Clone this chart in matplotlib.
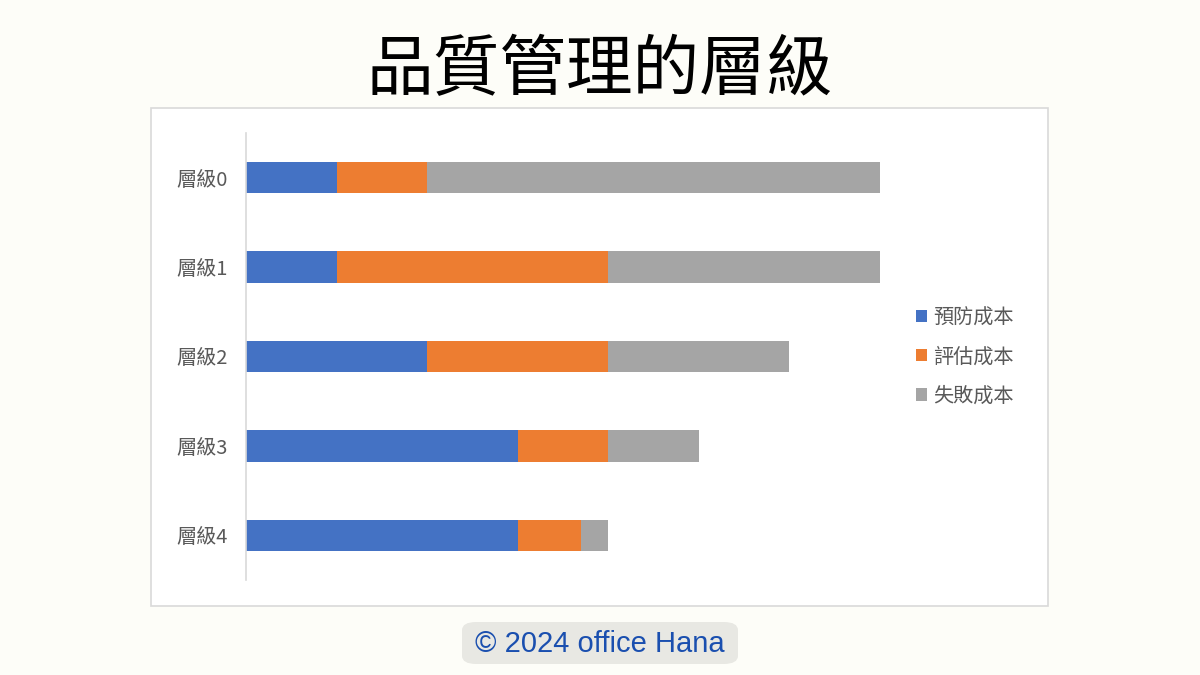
import matplotlib
matplotlib.use("Agg")
import matplotlib.pyplot as plt
from matplotlib.patches import Rectangle, FancyBboxPatch

plt.rcParams['font.family'] = ['Noto Sans CJK TC', 'DejaVu Sans']

categories = ["層級0", "層級1", "層級2", "層級3", "層級4"]
series_names = ["預防成本", "評估成本", "失敗成本"]
prevention = [1, 1, 2, 3, 3]
appraisal = [1, 3, 2, 1, 0.7]
failure = [5, 3, 2, 1, 0.3]
colors = ["#4472C4", "#ED7D31", "#A5A5A5"]

W, H = 1200, 675
fig = plt.figure(figsize=(12, 6.75), dpi=100)
fig.patch.set_facecolor("#FDFDF8")

# chart frame
fig.patches.append(Rectangle((151 / W, 1 - 606 / H), (1048 - 151) / W, (606 - 108) / H,
                             transform=fig.transFigure, facecolor="white",
                             edgecolor="#D9D9D9", linewidth=1.2, zorder=-5))

ax = fig.add_axes([246 / W, 1 - 580 / H, (880 - 246) / W, 447 / H])
ax.set_zorder(3)
ax.set_facecolor("none")

y = list(range(len(categories)))
left = [0] * len(categories)
for vals, name, c in zip([prevention, appraisal, failure], series_names, colors):
    ax.barh(y, vals, left=left, height=0.35, color=c, label=name)
    left = [l + v for l, v in zip(left, vals)]

ax.set_xlim(0, 7)
ax.set_ylim(4.5, -0.5)
ax.set_yticks(y)
ax.set_yticklabels(categories, fontsize=14.5, color="#595959")
ax.tick_params(axis='y', length=0, pad=13)
ax.set_xticks([])
for s in ["top", "right", "bottom"]:
    ax.spines[s].set_visible(False)
ax.spines["left"].set_color("#D9D9D9")
ax.spines["left"].set_linewidth(1.2)

leg = fig.legend(loc="center left", bbox_to_anchor=(898 / W, 1 - 357 / H),
                 frameon=False, fontsize=14.5, labelcolor="#595959",
                 handlelength=0.55, handleheight=0.55, handletextpad=0.3,
                 labelspacing=0.9)
leg.set_zorder(4)

fig.text(0.5, 1 - 71 / H, "品質管理的層級", ha="center", va="center",
         fontsize=48, color="black")

# copyright badge
fig.patches.append(FancyBboxPatch((462 / W, 1 - 664 / H), (738 - 462) / W, (664 - 622) / H,
                                  boxstyle="round,pad=0,rounding_size=0.012",
                                  transform=fig.transFigure, facecolor="#E8E8E3",
                                  edgecolor="none", zorder=1))
fig.text(600 / W, 1 - 644 / H, "© 2024 office Hana", ha="center", va="center",
         fontsize=21, color="#1A4FAF", family=["Liberation Sans", "DejaVu Sans"], zorder=2)

fig.savefig("out.png", dpi=100, facecolor=fig.get_facecolor())
